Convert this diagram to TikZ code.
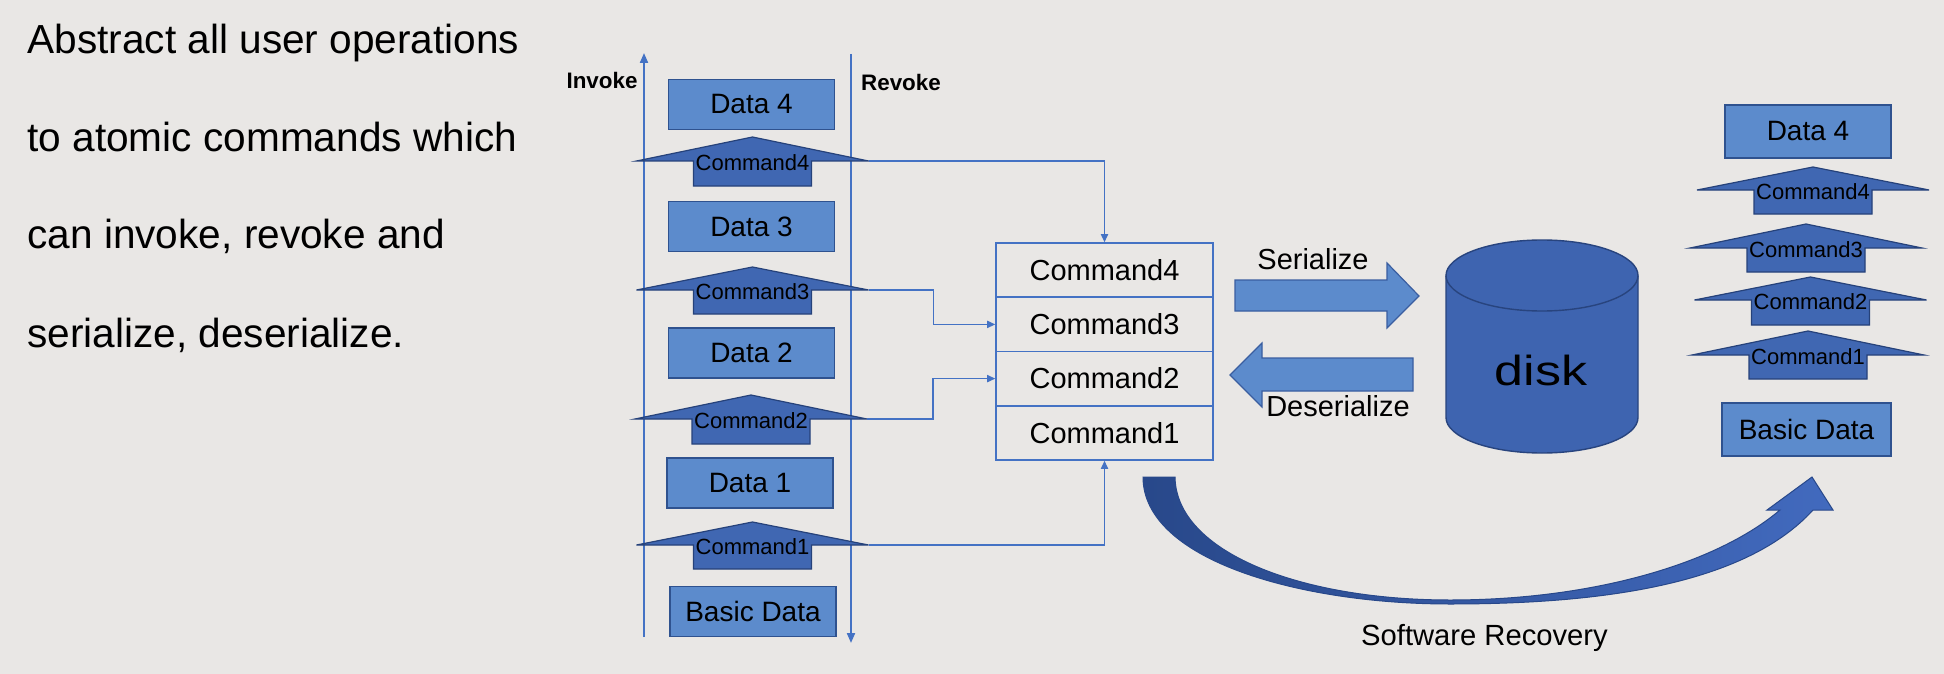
\documentclass[tikz,border=0pt]{standalone}
\usepackage{fontspec}
\setmainfont{Liberation Sans}
\usepackage{graphicx}
\usetikzlibrary{arrows.meta}
\definecolor{bg}{RGB}{233,231,229}
\definecolor{listblue}{RGB}{68,114,196}
\definecolor{datafill}{RGB}{92,139,204}
\definecolor{databorder}{RGB}{47,82,143}
\definecolor{cmdfill}{RGB}{64,103,178}
\definecolor{cmdborder}{RGB}{38,66,122}
\definecolor{arrowfill}{RGB}{92,139,204}
\definecolor{arrowborder}{RGB}{58,94,160}
\definecolor{diskfill}{RGB}{62,100,176}
\definecolor{diskborder}{RGB}{40,68,126}
\definecolor{curveleft}{RGB}{40,72,138}
\definecolor{curveright}{RGB}{66,106,190}
\tikzset{
  databox/.style={draw=databorder, fill=datafill, line width=0.8pt, minimum width=83pt,
    minimum height=25pt, inner sep=0pt, font=\fontsize{14}{16}\selectfont},
  cmdshape/.style={draw=cmdborder, fill=cmdfill, line width=0.6pt, line join=miter},
  cmdlabel/.style={font=\fontsize{11}{13}\selectfont, inner sep=0pt},
  listrow/.style={draw=listblue, line width=0.8pt, minimum width=108.5pt,
    minimum height=27.125pt, inner sep=0pt, font=\fontsize{14.5}{17}\selectfont},
  axisline/.style={draw=listblue, line width=1pt},
  conn/.style={draw=listblue, line width=0.6pt, -{Triangle[length=4pt,width=3.6pt]}},
  blockarrow/.style={draw=arrowborder, fill=arrowfill, line width=0.6pt},
  lbl/.style={font=\fontsize{14.5}{17}\selectfont, inner sep=0pt},
  para/.style={font=\fontsize{20.3}{24}\selectfont, inner sep=0pt, anchor=base west},
  sidelabel/.style={font=\bfseries\fontsize{11.2}{13}\selectfont, inner sep=0pt},
}
% name, cx, top, base, bottom, label
\newcommand\cmdarrow[6]{%
  \draw[cmdshape] ({#2-116},#4) -- (#2,#3) -- ({#2+116},#4) -- ({#2+59},#4)
    -- ({#2+59},#5) -- ({#2-59},#5) -- ({#2-59},#4) -- cycle;
  \coordinate (#1r) at ({#2+116},#4);
  \node[cmdlabel] (#1) at (#2,{#4+2}) {#6};
}
\begin{document}
\begin{tikzpicture}[x=0.5pt,y=-0.5pt]
\useasboundingbox (0,0) rectangle (1944,674);
\fill[bg] (0,0) rectangle (1944,674);

% paragraph
\node[para] (p1) at (27,54) {Abstract all user operations};
\node[para] (p2) at (27,152) {to atomic commands which};
\node[para] (p3) at (27,249) {can invoke, revoke and};
\node[para] (p4) at (27,347) {serialize, deserialize.};

% invoke / revoke axes
\coordinate (inv0) at (644,637);
\coordinate (inv1) at (644,53);
\coordinate (rev0) at (851,54);
\coordinate (rev1) at (851,643);
\draw[axisline,-{Triangle[length=5pt,width=4pt]}] (inv0) -- (inv1);
\draw[axisline,-{Triangle[length=5pt,width=4pt]}] (rev0) -- (rev1);
\node[sidelabel] (invoke) at (602,80) {Invoke};
\node[sidelabel] (revoke) at (901,82) {Revoke};

% left stack
\node[databox] (ld4) at (751.5,104.5) {Data 4};
\cmdarrow{lc4}{752.5}{137}{161}{186}{Command4}
\node[databox] (ld3) at (751.5,226.5) {Data 3};
\cmdarrow{lc3}{752.5}{267}{290}{314}{Command3}
\node[databox] (ld2) at (751.5,353) {Data 2};
\cmdarrow{lc2}{751}{395}{419}{444}{Command2}
\node[databox] (ld1) at (750,483) {Data 1};
\cmdarrow{lc1}{752.5}{522}{545}{569}{Command1}
\node[databox] (lb) at (753,611.5) {Basic Data};

% command list
\node[listrow] (l4) at (1104.5,270.1) {Command4};
\node[listrow] (l3) at (1104.5,324.4) {Command3};
\node[listrow] (l2) at (1104.5,378.6) {Command2};
\node[listrow] (l1) at (1104.5,432.9) {Command1};

% connectors
\draw[conn] (lc4r) -| (l4.north);
\draw[conn] (lc3r) -- ++(65,0) |- (l3.west);
\draw[conn] (lc2r) -- ++(66,0) |- (l2.west);
\draw[conn] (lc1r) -| (l1.south);

% serialize / deserialize
\draw[blockarrow] (1235,280) -- (1387,280) -- (1387,263) -- (1419,296) -- (1387,328)
  -- (1387,311) -- (1235,311) -- cycle;
\draw[blockarrow] (1413,358) -- (1262,358) -- (1262,343) -- (1230,375) -- (1262,407)
  -- (1262,391) -- (1413,391) -- cycle;
\node[lbl] (ser) at (1313,259.5) {Serialize};
\node[lbl] (deser) at (1338,406.5) {Deserialize};

% disk
\draw[fill=diskfill, draw=diskborder, line width=0.7pt]
  (1446,275.5) -- (1446,417.5) arc[start angle=180, end angle=360, x radius=48pt, y radius=17.75pt]
  -- (1638,275.5) arc[start angle=0, end angle=180, x radius=48pt, y radius=17.75pt] -- cycle;
\draw[draw=diskborder, line width=0.7pt]
  (1446,275.5) arc[start angle=180, end angle=360, x radius=48pt, y radius=17.75pt];
\node[inner sep=0pt, font=\fontsize{21}{25}\selectfont] (disk) at (1541,370) {\scalebox{1.24}[1]{disk}};

% right stack
\node[databox, minimum height=26.5pt] (rd4) at (1808,131.5) {Data 4};
\cmdarrow{rc4}{1813}{167}{190}{214}{Command4}
\cmdarrow{rc3}{1806}{224}{248}{272}{Command3}
\cmdarrow{rc2}{1810.5}{277}{300}{325}{Command2}
\cmdarrow{rc1}{1808}{331}{355}{379}{Command1}
\node[databox, minimum height=26.5pt, minimum width=84.5pt] (rb) at (1806.5,429.5) {Basic Data};

% software recovery curved arrow
\draw[draw=curveleft, line width=0.5pt, left color=curveleft, right color=curveright]
  (1143,477) -- (1175,477)
  .. controls (1176,552) and (1300,600) .. (1450,600)
  .. controls (1590,600) and (1715,565) .. (1780,510)
  -- (1767,510) -- (1812,477) -- (1833,510) -- (1813,510)
  .. controls (1745,585) and (1600,604) .. (1450,604)
  .. controls (1300,604) and (1143,560) .. (1143,477) -- cycle;
\node[inner sep=0pt, anchor=base, font=\fontsize{14.6}{17}\selectfont] (recovery) at (1484.5,645) {Software Recovery};
\end{tikzpicture}
\end{document}
